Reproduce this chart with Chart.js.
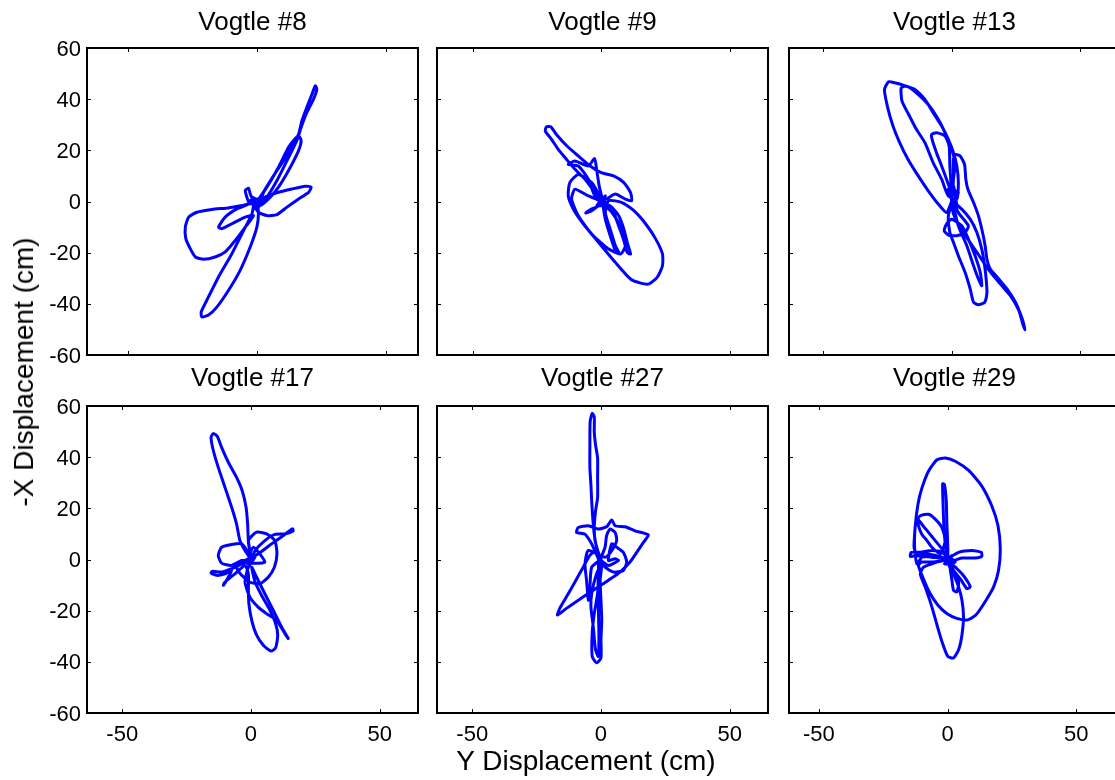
<!DOCTYPE html>
<html>
<head>
<meta charset="utf-8">
<script src="https://cdn.jsdelivr.net/npm/chart.js@4.4.1/dist/chart.umd.min.js"></script>
<style>
  html, body { margin: 0; padding: 0; background: #fff; overflow: hidden; }
  #fig { position: relative; width: 1115px; height: 780px; overflow: hidden; background: #fff; }
  #fig canvas { position: absolute; }
  .lbl { position: absolute; font-family: 'Liberation Sans', Arial, sans-serif; font-size: 28px; line-height: 28px; color: #000; white-space: nowrap; }
  #xlab { left: 586px; top: 747px; transform: translateX(-50%); }
  #ylab { left: 24px; top: 372px; transform: translate(-50%, -50%) rotate(-90deg); }
</style>
</head>
<body>
<div id="fig">
  <canvas id="c0" width="407" height="388" style="left:17px; top:7px"></canvas>
  <canvas id="c1" width="407" height="388" style="left:367px; top:7px"></canvas>
  <canvas id="c2" width="407" height="388" style="left:719px; top:7px"></canvas>
  <canvas id="c3" width="407" height="390" style="left:17px; top:363px"></canvas>
  <canvas id="c4" width="407" height="390" style="left:367px; top:363px"></canvas>
  <canvas id="c5" width="407" height="390" style="left:719px; top:363px"></canvas>
  <div class="lbl" id="xlab">Y Displacement (cm)</div>
  <div class="lbl" id="ylab">-X Displacement (cm)</div>
</div>
<script>
// tick labels
const xTicks = [-50, 0, 50];
const yTicks = [-60, -40, -20, 0, 20, 40, 60];

// orbit traces, Y displacement (x) and -X displacement (y), cm
const v8X = [0, 3.9, 8.4, 12.3, 14.2, 16.2, 17.2, 16.2, 12.3, 8.4,
  5.2, 1.3, 2.6, 7.8, 12.9, 16.2, 17.5, 19.4, 21.4, 22.7,
  23.3, 22.0, 19.4, 17.2, 15.5, 11.7, 7.8, 3.9, 0.6, 3.2,
  8.4, 13.6, 18.8, 21.1, 20.1, 16.2, 11.7, 7.8, 3.9, 0.6,
  -1.9, -5.8, -11.0, -17.5, -23.3, -26.5, -27.8, -27.6, -25.9, -23.9,
  -20.7, -16.2, -12.3, -8.4, -4.5, -1.3, -4.5, -9.7, -13.6, -14.9,
  -12.3, -7.8, -3.2, -3.9, -4.5, -3.2, -2.6, -1.3, -1.9, -5.8,
  -9.7, -14.9, -18.8, -21.6, -21.4, -18.8, -15.5, -11.0, -6.5, -2.6,
  0, 0.6, 0, -2.6, 1.3, -1.3, 1.9, -1.9, 0];
const v8Y = [0, 5.6, 13.4, 21.2, 23.8, 25.7, 23.8, 19.9, 12.1, 5.6,
  1.7, -1.6, 3.6, 12.1, 19.9, 26.4, 31.6, 36.8, 41.9, 45.2,
  43.9, 40.0, 34.8, 29.0, 23.8, 16.0, 8.2, 1.7, -2.2, 1.7,
  3.6, 4.9, 6.0, 5.6, 3.6, 1.0, -2.2, -5.1, -5.5, -4.2,
  -0.9, -1.6, -2.5, -3.1, -4.2, -6.1, -10.0, -14.5, -18.4, -21.7,
  -22.6, -21.7, -19.7, -15.2, -10.0, -5.5, -6.1, -8.7, -10.6, -10.0,
  -6.1, -2.9, -0.9, 1.7, 4.3, 5.2, 3.0, -0.3, -4.8, -12.6,
  -20.4, -29.5, -37.3, -43.1, -45.1, -44.4, -41.2, -34.7, -26.9, -17.8,
  -10.0, -4.8, -0.9, 0.4, 1.0, -2.9, -0.9, 1.7, 0];

const v9X = [0, -2.4, -6.3, -10.2, -13.5, -16.7, -19.3, -21.7, -21.3, -19.6,
  -17.4, -13.5, -8.9, -4.3, 0, 4.8, 8.8, 11.4, 11.8, 9.4,
  5.5, 1.6, -2.4, -5.0, -8.9, -12.8, -10.2, -5.0, -2.6, -1.7,
  -0.8, 0.3, -3.7, -8.9, -12.2, -12.8, -10.8, -6.9, -1.0, 5.5,
  11.4, 15.3, 18.6, 21.8, 23.8, 23.8, 21.2, 17.3, 12.7, 8.1,
  2.9, 1.6, 3.5, 5.5, 6.8, 5.5, 3.5, 1.6, 0.9, 3.5,
  6.8, 8.8, 10.1, 11.4, 10.1, 8.8, 6.5, 4.2, 0.9, -3.7,
  -6.0, -4.3, -1.0, 0, -5.0, -10.2, -11.5, -8.9, -3.7, 2.9,
  7.5, 9.4, 8.1, 4.2, 0, 1.6, -1.7, 2.2, -1.0, 0];
const v9Y = [0, 3.5, 8.7, 12.6, 16.5, 20.4, 24.3, 27.5, 29.2, 29.2,
  26.2, 21.9, 17.8, 13.9, 11.3, 10.0, 7.4, 3.5, 0.3, 0.9,
  2.9, 0.9, 2.2, 8.7, 13.9, 14.5, 15.8, 13.9, 16.8, 11.9,
  6.1, 0.9, 7.4, 10.6, 7.4, 2.2, -3.0, -8.8, -16.0, -23.8,
  -30.3, -31.9, -32.2, -29.6, -25.1, -20.5, -14.7, -8.8, -3.6, -0.4,
  0.3, -4.3, -10.8, -17.3, -19.9, -19.2, -13.4, -6.9, -1.0, -1.7,
  -5.6, -10.8, -16.0, -20.5, -19.9, -15.3, -8.8, -3.0, -0.4, -3.6,
  -4.5, -3.2, -1.7, 0, 2.2, 4.8, 0.9, -5.6, -12.7, -18.6,
  -20.5, -17.3, -10.8, -4.3, 0, 2.2, -1.7, -1.0, 2.2, 0];

const v13X = [0, -2.0, -5.2, -9.1, -13.0, -17.0, -20.2, -22.8, -25.0, -26.1,
  -24.5, -22.2, -18.3, -14.3, -10.4, -7.2, -3.9, -1.3, 0.7, 2.0,
  2.6, 2.0, -1.3, -3.9, -7.2, -10.4, -13.7, -16.7, -19.3, -19.6,
  -17.6, -13.7, -9.1, -5.2, -2.0, 0, 1.3, 0.7, 0, -2.0,
  -3.9, -5.9, -7.6, -7.8, -5.9, -2.6, -1.0, -0.7, -0.3, 0,
  0.7, 0.7, 1.6, 3.3, 5.0, 5.5, 6.3, 8.5, 10.4, 12.0,
  13.0, 13.7, 15.0, 18.3, 21.5, 24.8, 26.7, 28.0, 28.4, 27.6,
  26.1, 22.8, 18.9, 14.6, 10.2, 6.3, 2.9, 0.7, 0, -1.3,
  -0.7, 0.7, 2.6, 5.2, 7.2, 8.5, 10.4, 12.8, 13.7, 13.4,
  12.8, 11.7, 9.8, 7.2, 3.9, 0.7, 2.6, 5.9, 8.5, 10.4,
  11.7, 11.1, 9.1, 6.5, 3.9, 0, -2.0, -2.9, -1.3, 2.0,
  5.2, 6.5, 2.6, -1.3, 2.6, -0.7, 2.0, 0.7, 0];
const v13Y = [0, -4.3, -1.0, 4.2, 10.0, 16.5, 23.0, 29.5, 37.3, 43.8,
  46.8, 46.4, 45.3, 43.8, 39.9, 34.7, 29.5, 24.3, 19.1, 13.9,
  7.4, 0.9, 2.2, 8.7, 15.2, 23.0, 28.2, 34.0, 39.2, 44.4,
  45.1, 42.5, 37.9, 32.1, 25.6, 20.4, 15.2, 8.7, 3.5, 8.7,
  13.9, 19.1, 24.3, 26.2, 26.9, 25.6, 21.7, 13.9, 7.4, 0,
  8.7, 16.5, 18.4, 17.8, 14.5, 8.7, 4.8, -0.4, -5.6, -12.1,
  -17.3, -22.5, -26.4, -30.3, -34.2, -39.4, -43.9, -47.8, -50.1, -47.8,
  -42.6, -36.8, -32.2, -27.0, -20.5, -14.7, -9.5, -4.9, -1.7, -5.6,
  -12.1, -16.0, -21.2, -27.7, -34.2, -39.4, -40.4, -39.4, -35.5, -30.3,
  -25.1, -18.6, -12.1, -6.9, -3.0, -0.4, -9.5, -17.3, -25.1, -30.3,
  -32.9, -27.7, -21.2, -14.7, -9.5, -6.9, -8.8, -11.4, -13.1, -13.4,
  -12.1, -9.5, -4.3, 4.8, 3.5, -1.7, -3.0, 6.1, 0];

const v17X = [0, -2.3, -4.3, -5.6, -7.5, -10.1, -12.7, -14.6, -15.5, -14.6,
  -13.0, -11.4, -8.8, -5.6, -3.4, -1.9, -1.3, -1.0, -0.4, -3.6,
  -7.5, -11.4, -12.7, -11.4, -7.5, -3.6, 0, -1.0, 2.2, 6.1,
  9.3, 10.1, 9.1, 6.7, 3.5, -0.4, -3.6, -5.6, -2.3, 2.8,
  8.0, 12.6, 16.1, 16.4, 13.2, 9.3, 5.4, 1.6, 0, -3.6,
  -7.5, -11.4, -15.0, -15.5, -13.3, -10.1, -7.5, -8.8, -10.7, -10.1,
  -6.2, -2.3, -1.0, -1.0, -0.8, 0.3, 2.2, 4.8, 7.8, 9.6,
  10.4, 9.6, 7.4, 4.1, 1.6, 0.3, 2.2, 5.4, 8.7, 11.9,
  14.5, 13.2, 10.0, 6.1, 2.8, -0.4, -2.3, -1.0, 1.6, -1.3,
  0.9, 5.4, 0.3, 0];
const v17Y = [0, 3.5, 7.4, 13.9, 20.4, 28.2, 36.0, 42.5, 47.7, 49.3,
  48.0, 43.8, 38.0, 32.1, 26.9, 20.4, 13.9, 7.4, 2.2, 6.1,
  5.9, 4.8, 1.6, -1.4, -2.3, -0.4, 0, 7.4, 10.7, 10.0,
  7.4, 2.2, -3.0, -6.9, -9.5, -8.8, -6.2, -3.0, -0.4, 2.2,
  6.1, 9.4, 12.0, 11.1, 10.0, 9.8, 7.4, 3.5, 0, -1.7,
  -3.6, -4.9, -4.6, -5.3, -6.2, -5.6, -4.3, -6.9, -10.1, -8.8,
  -5.6, -2.3, -5.6, -12.1, -17.3, -23.8, -29.6, -33.5, -35.8, -34.5,
  -29.6, -25.1, -19.9, -14.0, -8.8, -3.0, -6.9, -13.4, -19.9, -26.4,
  -30.9, -29.0, -23.8, -21.2, -18.6, -14.7, -8.8, -3.0, 0.9, -1.7,
  4.8, -1.0, -1.4, 0];

const v27X = [0, -1.7, -2.6, -3.2, -3.6, -3.9, -4.3, -4.3, -4.2, -3.4,
  -2.6, -2.6, -2.1, -1.3, -1.3, -1.3, -2.1, -2.6, -2.3, -1.0,
  -1.0, -1.3, -2.6, -3.4, -3.4, -1.7, 0, 0, 0.3, 0,
  -0.3, 0.3, -1.7, -3.6, -3.9, -3.0, -2.1, -1.0, -0.8, -1.0,
  -0.8, 0, -3.6, -6.2, -9.5, -8.8, -4.9, -1.0, 2.2, 4.2,
  5.5, 9.4, 13.2, 18.4, 16.5, 13.9, 11.3, 7.4, 2.9, -1.0,
  -4.9, -8.8, -13.4, -16.9, -16.0, -13.4, -10.1, -6.9, -4.3, -1.7,
  0, 1.6, 4.8, 8.7, 10.0, 8.7, 6.1, 4.2, 2.9, 5.5,
  6.8, 2.9, 0, 1.6, 2.2, 3.5, 5.5, 6.1, 4.2, 1.6,
  -4.9, -6.2, -5.6, -4.9, -4.3, -3.6, 0];
const v27Y = [0, 4.8, 9.9, 16.4, 22.9, 29.3, 35.8, 44.8, 53.9, 57.1,
  55.8, 50.0, 44.8, 39.7, 31.9, 24.2, 19.0, 12.5, 7.4, 2.2,
  -5.6, -13.3, -21.1, -28.8, -37.9, -40.4, -38.5, -31.4, -23.6, -15.9,
  -8.1, -1.7, -5.6, -13.3, -18.5, -26.2, -35.3, -37.9, -28.8, -18.5,
  -10.7, -3.0, 6.1, 9.9, 10.6, 12.5, 13.2, 11.9, 12.8, 15.4,
  13.2, 12.8, 11.2, 9.6, 6.7, 2.8, -1.0, -4.9, -8.1, -10.7,
  -13.3, -15.9, -19.1, -21.7, -19.1, -14.6, -8.8, -3.0, 1.6, 3.5,
  0, -3.0, -4.9, -4.3, -1.0, 2.8, 4.8, 6.1, -0.4, 0.3,
  -0.4, -2.3, 0, 4.8, 9.3, 11.9, 10.6, 7.4, 3.5, 0.9,
  3.5, -1.7, -8.1, -15.9, -10.7, -3.0, 0];

const v29X = [0, -0.9, -1.4, -1.7, -1.9, -1.2, -0.5, -0.3, 0, 0,
  -2.2, -6.1, -10.0, -11.9, -12.8, -12.6, -11.5, -10.0, -7.4, -4.1,
  -0.9, 3.0, 8.2, 13.3, 17.2, 19.6, 20.5, 19.8, 17.9, 14.6,
  11.0, 7.9, 3.6, -0.3, -3.8, -7.1, -9.7, -11.3, -10.0, -5.4,
  -0.9, 4.3, 9.5, 13.1, 13.3, 10.7, 5.6, 1.7, -2.2, -6.1,
  -10.6, -14.1, -14.5, -11.9, -7.4, -2.8, 0, -2.2, -4.8, -7.4,
  -10.0, -11.5, -11.3, -10.0, -8.0, -6.1, -2.8, -0.9, -2.2, -4.8,
  -7.4, -10.6, -12.3, -12.8, -13.0, -11.9, -6.1, 0, 3.0, 5.6,
  7.9, 8.8, 7.5, 5.3, 2.3, 1.0, 1.7, 2.3, 3.6, 4.3,
  1.7, 0, -2.2, -6.1, -9.3, -10.6, -8.7, -6.1, -4.1, -2.2,
  0.1, 2.3, 4.3, 5.6, 6.2, 5.6, 4.3, 2.3, 0.4, 1.7,
  -1.2, 3.0, -0.9, 0];
const v29Y = [0, 6.1, 12.5, 20.3, 29.6, 29.3, 22.9, 15.1, 7.4, 0,
  0.9, 1.9, 0.9, -1.7, 4.8, 12.5, 21.6, 27.8, 34.5, 39.0,
  39.7, 38.4, 34.8, 28.7, 20.9, 13.2, 4.1, -4.3, -10.7, -16.5,
  -21.7, -23.6, -23.0, -21.1, -17.8, -12.7, -6.8, -2.3, -1.0, -1.0,
  -0.1, 2.8, 3.5, 2.8, 1.2, 0.6, 0.6, -0.4, 2.8, 3.5,
  2.8, 2.8, 1.2, 1.6, 2.2, 0.9, 0, 4.1, 7.4, 10.6,
  13.8, 15.8, 13.2, 9.9, 7.4, 4.8, 2.2, 7.4, 12.5, 15.8,
  17.7, 17.1, 14.5, 9.9, 4.8, 1.6, 0.9, 0, -3.0, -5.6,
  -8.8, -10.7, -11.4, -8.1, -4.3, -3.0, -8.1, -12.0, -12.7, -8.8,
  -3.0, 0, -0.4, -1.7, -3.0, -5.6, -10.7, -18.5, -25.6, -32.0,
  -37.9, -38.5, -35.3, -29.5, -22.4, -15.9, -10.7, -5.6, -1.7, 1.6,
  -1.7, -1.0, 1.9, 0];

const titles = ['Vogtle #8', 'Vogtle #9', 'Vogtle #13', 'Vogtle #17', 'Vogtle #27', 'Vogtle #29'];
const seriesX = [v8X, v9X, v13X, v17X, v27X, v29X];
const seriesY = [v8Y, v9Y, v13Y, v17Y, v27Y, v29Y];
// horizontal limits of each panel (cm)
const xMins = [-66.0, -63.8, -63.2, -63.7, -63.7, -61.6];
const xMaxs = [62.6, 64.8, 65.4, 64.9, 64.9, 67.0];

const fontFamily = "'Liberation Sans', Arial, Helvetica, sans-serif";

// box round the plot area with short inward ticks on all four sides
const frameTicks = {
  id: 'frameTicks',
  afterDraw(chart) {
    const { ctx, chartArea: a } = chart;
    const x = chart.scales.x, y = chart.scales.y;
    ctx.save();
    ctx.strokeStyle = '#000';
    ctx.lineWidth = 1;
    ctx.beginPath();
    x.ticks.forEach(t => {
      const p = Math.round(x.getPixelForValue(t.value)) + 0.5;
      ctx.moveTo(p, a.bottom); ctx.lineTo(p, a.bottom - 4);
      ctx.moveTo(p, a.top); ctx.lineTo(p, a.top + 4);
    });
    y.ticks.forEach(t => {
      const p = Math.round(y.getPixelForValue(t.value)) + 0.5;
      ctx.moveTo(a.left, p); ctx.lineTo(a.left + 4, p);
      ctx.moveTo(a.right, p); ctx.lineTo(a.right - 4, p);
    });
    ctx.stroke();
    ctx.lineWidth = 2;
    ctx.strokeRect(a.left, a.top, a.right - a.left, a.bottom - a.top);
    ctx.restore();
  }
};

titles.forEach((title, i) => {
  const row = i < 3 ? 0 : 1;
  const col = i % 3;
  const xs = seriesX[i], ys = seriesY[i];
  const pts = [];
  for (let k = 0; k < Math.min(xs.length, ys.length); k++) pts.push({ x: xs[k], y: ys[k] });

  new Chart(document.getElementById('c' + i), {
    type: 'scatter',
    data: {
      datasets: [{
        data: pts,
        showLine: true,
        borderColor: '#0000ff',
        borderWidth: 3,
        pointRadius: 0,
        pointHoverRadius: 0,
        tension: 0.2,
        fill: false
      }]
    },
    options: {
      responsive: false,
      animation: false,
      devicePixelRatio: 1,
      events: [],
      layout: { padding: { left: 0, right: 6, top: 0, bottom: 0 } },
      plugins: {
        legend: { display: false },
        tooltip: { enabled: false },
        title: {
          display: true,
          text: title,
          color: '#000',
          fullSize: false,
          font: { family: fontFamily, size: 26, weight: 'normal', lineHeight: '32px' },
          padding: { top: 0, bottom: row ? 11 : 9 }
        }
      },
      scales: {
        x: {
          type: 'linear',
          position: 'bottom',
          min: xMins[i],
          max: xMaxs[i],
          grid: { display: false, drawTicks: false },
          border: { display: false },
          ticks: { display: row === 1, color: '#000', font: { family: fontFamily, size: 22 }, padding: 9, maxRotation: 0 },
          afterBuildTicks: s => { s.ticks = xTicks.map(v => ({ value: v })); },
          afterFit: s => { s.height = 40; }
        },
        y: {
          type: 'linear',
          position: 'left',
          min: -60,
          max: 60,
          grid: { display: false, drawTicks: false },
          border: { display: false },
          ticks: { display: col === 0, color: '#000', font: { family: fontFamily, size: 22 }, padding: 6, labelOffset: 1.5 },
          afterBuildTicks: s => { s.ticks = yTicks.map(v => ({ value: v })); },
          afterFit: s => { s.width = 70; }
        }
      }
    },
    plugins: [frameTicks]
  });
});
</script>
</body>
</html>
